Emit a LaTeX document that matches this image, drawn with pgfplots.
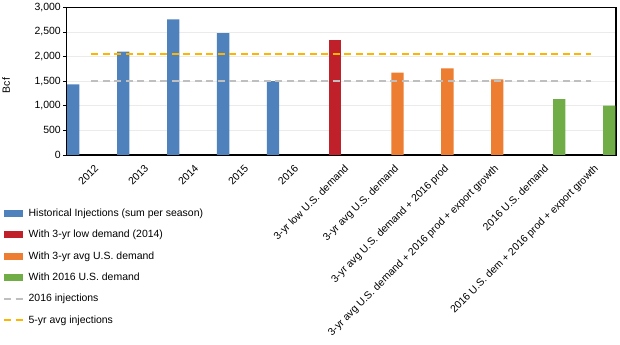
\documentclass[border=0pt]{standalone}
\usepackage{pgfplots}
\pgfplotsset{compat=1.18}
\usepackage{fontspec}
\setmainfont{Liberation Sans}
\definecolor{cblue}{HTML}{4F81BD}
\definecolor{cred}{HTML}{C0202A}
\definecolor{corange}{HTML}{ED7D31}
\definecolor{cgreen}{HTML}{70AD47}
\definecolor{cgray}{HTML}{BFBFBF}
\definecolor{cyellow}{HTML}{FFB400}
\definecolor{cgrid}{HTML}{EBEBEB}
\pgfplotsset{
  barleg/.style={legend image code/.code={\fill[##1] (0bp,-3.4bp) rectangle (19bp,3.4bp);}},
  lineleg/.style={legend image code/.code={\draw[##1] (0bp,0bp) -- (19bp,0bp);}},
}
\begin{document}
\begin{tikzpicture}
\useasboundingbox (0,0) rectangle (620bp,345bp);
\begin{axis}[
  at={(66.5bp,190bp)}, anchor=south west,
  scale only axis, width=549.5bp, height=147.7bp,
  xmin=-0.5, xmax=10.5, ymin=0, ymax=3000,
  ytick={0,500,...,3000},
  xtick={0,...,10},
  xticklabels={2012,2013,2014,2015,2016,{3-yr low U.S. demand},{3-yr avg U.S. demand},{3-yr avg U.S. demand + 2016 prod},{3-yr avg U.S. demand + 2016 prod + export growth},{2016 U.S. demand},{2016 U.S. dem + 2016 prod + export growth}},
  x tick style={draw=none},
  ytick pos=left, xtick pos=bottom,
  y tick style={black, line width=0.8bp},
  tick align=outside, major tick length=3.5bp,
  ymajorgrids, grid style={cgrid, line width=0.8bp},
  axis line style={black, line width=1.1bp},
  yticklabel style={/pgf/number format/1000 sep={,}, font=\fontsize{10.5}{12}\selectfont, inner sep=2bp},
  /pgf/number format/assume math mode=true,
  scaled y ticks=false,
  xticklabel style={rotate=45, anchor=north east, font=\fontsize{10.5}{12}\selectfont, inner sep=1bp, yshift=-4.5bp, xshift=-1bp},
  ylabel={Bcf},
  ylabel style={at={(axis description cs:-0.11,0.47)}, anchor=center, font=\fontsize{10.5}{12}\selectfont},
  legend style={at={(axis description cs:-0.1156,-0.36)}, anchor=north west, draw=none, fill=none,
    inner sep=0pt, font=\fontsize{10.5}{12}\selectfont, row sep=11.4bp,
    nodes={inner sep=0pt, text height=8bp, text depth=2bp},
    /tikz/every odd column/.style={column sep=4.5bp}},
  legend cell align=left,
]
\addplot[ybar, bar width=12.3bp, bar shift=-18.2bp, fill=cblue, draw=none, barleg] coordinates {(0,1436) (1,2098) (2,2756) (3,2478) (4,1503)};
\addlegendentry{Historical Injections (sum per season)}
\addplot[ybar, bar width=12.3bp, bar shift=-6bp, fill=cred, draw=none, barleg] coordinates {(5,2336)};
\addlegendentry{With 3-yr low demand (2014)}
\addplot[ybar, bar width=12.3bp, bar shift=6.2bp, fill=corange, draw=none, barleg] coordinates {(6,1672) (7,1761) (8,1537)};
\addlegendentry{With 3-yr avg U.S. demand}
\addplot[ybar, bar width=12.3bp, bar shift=18.2bp, fill=cgreen, draw=none, barleg] coordinates {(9,1137) (10,1002)};
\addlegendentry{With 2016 U.S. demand}
\addplot[cgray, line width=2bp, dash pattern=on 7bp off 4.5bp, lineleg] coordinates {(0,1500) (10,1500)};
\addlegendentry{2016 injections}
\addplot[cyellow, line width=2bp, dash pattern=on 7bp off 4.5bp, lineleg] coordinates {(0,2050) (10,2050)};
\addlegendentry{5-yr avg injections}
\end{axis}
\end{tikzpicture}
\end{document}
